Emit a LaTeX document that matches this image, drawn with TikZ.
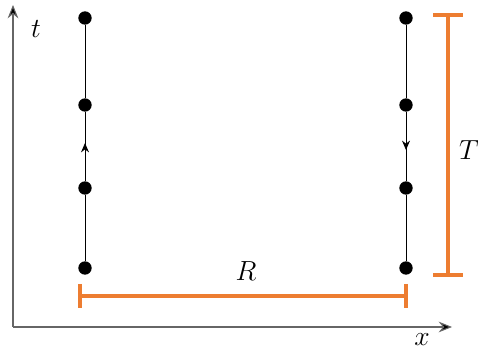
\documentclass[tikz,border=0pt]{standalone}
\usepackage{amsmath}
\usetikzlibrary{arrows.meta,decorations.markings}
\definecolor{barorange}{RGB}{237,125,49}

\begin{document}
\begin{tikzpicture}[x=0.75pt, y=-0.75pt, >=Stealth,
    dot/.style={circle, fill=black, inner sep=0pt, minimum size=10pt},
    world/.style={line width=0.6pt},
    midup/.style={postaction={decorate}, decoration={markings, mark=at position 0.55 with {\arrow{Stealth[length=7pt,width=6pt]}}}},
    axis/.style={draw=black!60, line width=0.8pt, -{Stealth[length=10pt,width=8pt,fill=black]}},
    span/.style={draw=barorange, line width=3pt},
    lbl/.style={font=\huge}]
    \useasboundingbox (0,0) rectangle (478,352);

    % axes
    \coordinate (o) at (13,327);
    \coordinate (ttip) at (13,5);
    \coordinate (xtip) at (452,327);
    \draw [axis] (o) -- (ttip);
    \draw [axis] (o) -- (xtip);
    \node (tlab) [lbl] at (36,29) {$t$};
    \node (xlab) [lbl] at (422,340) {$x$};

    % left worldline
    \node (a1) [dot] at (85,268) {};
    \node (a2) [dot] at (85,188) {};
    \node (a3) [dot] at (85,105) {};
    \node (a4) [dot] at (85,18) {};
    \draw [world] (a1) -- (a2);
    \draw [world, midup] (a2) -- (a3);
    \draw [world] (a3) -- (a4);

    % right worldline
    \node (b1) [dot] at (406,18) {};
    \node (b2) [dot] at (406,105) {};
    \node (b3) [dot] at (406,188) {};
    \node (b4) [dot] at (406,268) {};
    \draw [world] (b1) -- (b2);
    \draw [world, midup] (b2) -- (b3);
    \draw [world] (b3) -- (b4);

    % spans
    \coordinate (rl) at (80,296);
    \coordinate (rr) at (406,296);
    \draw [span] (80,284) -- (80,308);
    \draw [span] (406,284) -- (406,308);
    \draw [span] (rl) -- (rr);
    \node (rlab) [lbl] at (246,271) {$R$};

    \coordinate (tt) at (448,15);
    \coordinate (tb) at (448,275);
    \draw [span] (433,15) -- (463,15);
    \draw [span] (433,275) -- (463,275);
    \draw [span] (tt) -- (tb);
    \node (Tlab) [lbl] at (469,150) {$T$};
\end{tikzpicture}
\end{document}
